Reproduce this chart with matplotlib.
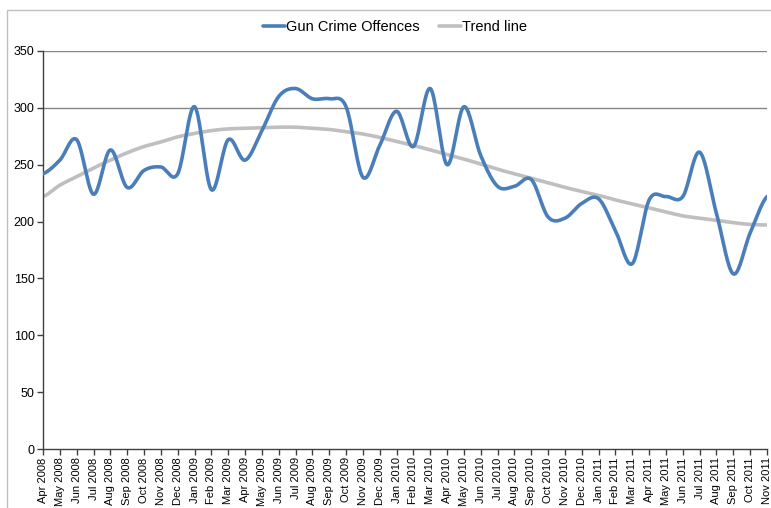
import numpy as np
import matplotlib
matplotlib.use("Agg")
import matplotlib.pyplot as plt
from matplotlib.patches import Rectangle

months = ["Apr 2008", "May 2008", "Jun 2008", "Jul 2008", "Aug 2008", "Sep 2008", "Oct 2008",
          "Nov 2008", "Dec 2008", "Jan 2009", "Feb 2009", "Mar 2009", "Apr 2009", "May 2009",
          "Jun 2009", "Jul 2009", "Aug 2009", "Sep 2009", "Oct 2009", "Nov 2009", "Dec 2009",
          "Jan 2010", "Feb 2010", "Mar 2010", "Apr 2010", "May 2010", "Jun 2010", "Jul 2010",
          "Aug 2010", "Sep 2010", "Oct 2010", "Nov 2010", "Dec 2010", "Jan 2011", "Feb 2011",
          "Mar 2011", "Apr 2011", "May 2011", "Jun 2011", "Jul 2011", "Aug 2011", "Sep 2011",
          "Oct 2011", "Nov 2011"]

gun_crime = [242, 254, 272, 224, 263, 230, 245, 248, 242, 301, 228, 272, 254, 280,
             310, 317, 308, 308, 301, 239, 267, 297, 266, 317, 250, 301, 258, 231,
             231, 237, 204, 203, 216, 220, 192, 163, 219, 222, 222, 261, 207, 154,
             190, 222]

trend = [222, 232, 239.5, 247, 254, 260.5, 266, 270, 274.5, 277.5, 280, 281.5, 282, 282.5,
         283, 283, 282, 281, 279, 277, 274, 270.5, 267, 263, 259, 255, 250.5, 246,
         242, 238, 234, 230, 226.5, 223, 219, 215.5, 212, 208.5, 205, 203, 201, 199,
         197.5, 197]

y_ticks = [0, 50, 100, 150, 200, 250, 300, 350]
grid_values = [300, 350]


def smooth(yvals, n=20):
    """Catmull-Rom style smoothing for drawing (like Excel's smoothed line)."""
    y = np.asarray(yvals, dtype=float)
    x = np.arange(len(y), dtype=float)
    xs, ys = [], []
    for i in range(len(y) - 1):
        p0 = y[i - 1] if i > 0 else y[i]
        p1, p2 = y[i], y[i + 1]
        p3 = y[i + 2] if i + 2 < len(y) else y[i + 1]
        t = np.linspace(0, 1, n, endpoint=False)
        seg = 0.5 * ((2 * p1) + (-p0 + p2) * t + (2 * p0 - 5 * p1 + 4 * p2 - p3) * t ** 2
                     + (-p0 + 3 * p1 - 3 * p2 + p3) * t ** 3)
        xs.append(x[i] + t)
        ys.append(seg)
    xs.append([x[-1]])
    ys.append([y[-1]])
    return np.concatenate(xs), np.concatenate(ys)


plt.rcParams['font.family'] = ['Liberation Sans', 'DejaVu Sans']

fig = plt.figure(figsize=(7.71, 5.08), dpi=100)
fig.patches.append(Rectangle((7 / 771, -0.1), 1.2, 1 - 10 / 508 + 0.1, transform=fig.transFigure,
                             fill=False, edgecolor='#C0C0C0', linewidth=1, zorder=0))

ax = fig.add_axes([43 / 771, 59 / 508, 724 / 771, 398 / 508])

for g in grid_values:
    ax.axhline(g, color='#868686', linewidth=1, zorder=1)

xs, ys = smooth(trend)
ax.plot(xs, ys, color='#BFBFBF', linewidth=2.6, label='Trend line', zorder=2,
        solid_capstyle='round')
xs, ys = smooth(gun_crime)
ax.plot(xs, ys, color='#4A7EBB', linewidth=2.6, label='Gun Crime Offences', zorder=3,
        solid_capstyle='round')

ax.set_xlim(0, len(months) - 1)
ax.set_ylim(0, 350)
ax.set_yticks(y_ticks)
ax.set_yticklabels([str(v) for v in y_ticks], fontsize=9)
ax.set_xticks(range(len(months)))
ax.set_xticklabels(months, rotation=90, fontsize=8,
                   family=['Liberation Sans Narrow', 'Liberation Sans', 'DejaVu Sans'])

for s in ['top', 'right']:
    ax.spines[s].set_visible(False)
for s in ['left', 'bottom']:
    ax.spines[s].set_color('#404040')
    ax.spines[s].set_linewidth(1)
ax.tick_params(axis='both', direction='out', length=4, width=1, color='#404040', pad=2)

handles, labels = ax.get_legend_handles_labels()
leg = fig.legend(handles[::-1], labels[::-1], loc='center', bbox_to_anchor=(395 / 771, 1 - 27 / 508),
                 ncol=2, frameon=False, fontsize=10.5, handlelength=1.5, handletextpad=0.1,
                 columnspacing=1.3)
ax.margins(0)
fig.savefig('out.png', dpi=100)
